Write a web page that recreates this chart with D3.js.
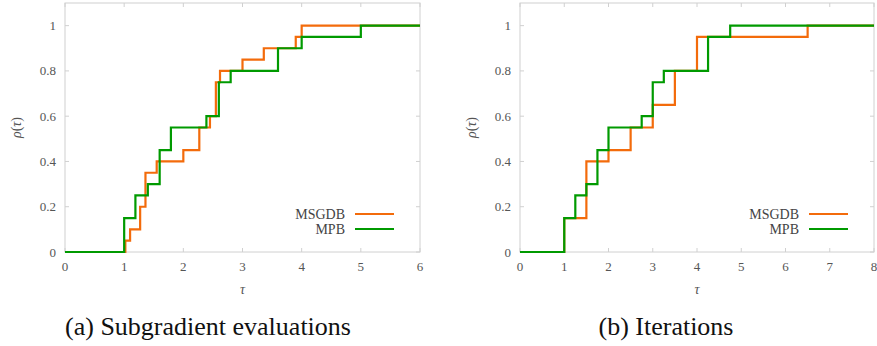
<!DOCTYPE html>
<html>
<head>
<meta charset="utf-8">
<script src="https://cdn.jsdelivr.net/npm/d3@7"></script>
<style>
  body { margin: 0; background: #fff; }
</style>
</head>
<body>
<div id="chart"></div>
<script>
// performance profiles
const seriesNames = ["MSGDB", "MPB"];

// (a) subgradient evaluations
const leftMsgdbTau = [0, 1.02, 1.1, 1.27, 1.36, 1.55, 2.0, 2.27, 2.45, 2.55, 2.62, 3.0, 3.36, 3.9, 4.0, 6];
const leftMsgdbRho = [0, 0.05, 0.1, 0.2, 0.35, 0.4, 0.45, 0.55, 0.6, 0.75, 0.8, 0.85, 0.9, 0.95, 1.0, 1.0];
const leftMpbTau = [0, 1.0, 1.19, 1.4, 1.6, 1.79, 2.39, 2.6, 2.8, 3.6, 4.0, 5.0, 6];
const leftMpbRho = [0, 0.15, 0.25, 0.3, 0.45, 0.55, 0.6, 0.75, 0.8, 0.9, 0.95, 1.0, 1.0];

// (b) iterations
const rightMsgdbTau = [0, 1.0, 1.5, 2.0, 2.5, 3.0, 3.5, 4.0, 6.5, 8];
const rightMsgdbRho = [0, 0.15, 0.4, 0.45, 0.55, 0.65, 0.8, 0.95, 1.0, 1.0];
const rightMpbTau = [0, 1.0, 1.25, 1.5, 1.75, 2.0, 2.75, 3.0, 3.25, 4.25, 4.75, 8];
const rightMpbRho = [0, 0.15, 0.25, 0.3, 0.45, 0.55, 0.6, 0.75, 0.8, 0.95, 1.0, 1.0];

const yTicks = [0, 0.2, 0.4, 0.6, 0.8, 1];
const leftXTicks = [0, 1, 2, 3, 4, 5, 6];
const rightXTicks = [0, 1, 2, 3, 4, 5, 6, 7, 8];

const colors = { MSGDB: "#f36b0b", MPB: "#009a00" };
const serif = "'Liberation Serif', 'Times New Roman', 'DejaVu Serif', serif";

var width = 877, height = 346;

var svg = d3.select("#chart")
  .append("svg")
  .attr("width", width)
  .attr("height", height)
  .style("font-family", serif);

function drawPanel(opts) {
  var x = d3.scaleLinear().domain([0, opts.xMax]).range([opts.x0, opts.x1]);
  var y = d3.scaleLinear().domain([0, 1.1]).range([252, 3]);
  var g = svg.append("g");

  // frame
  g.append("rect")
    .attr("x", opts.x0).attr("y", y(1.1))
    .attr("width", opts.x1 - opts.x0).attr("height", y(0) - y(1.1))
    .attr("fill", "none").attr("stroke", "#d0d0d0").attr("stroke-width", 1);

  // inward ticks, mirrored
  var tk = 4;
  opts.xTicks.forEach(function (t) {
    g.append("line").attr("x1", x(t)).attr("x2", x(t)).attr("y1", y(0)).attr("y2", y(0) - tk)
      .attr("stroke", "#d0d0d0");
    g.append("line").attr("x1", x(t)).attr("x2", x(t)).attr("y1", y(1.1)).attr("y2", y(1.1) + tk)
      .attr("stroke", "#d0d0d0");
    g.append("text").attr("x", x(t)).attr("y", 271)
      .attr("text-anchor", "middle").attr("font-size", 13).attr("fill", "#555")
      .text(t);
  });
  yTicks.forEach(function (t) {
    g.append("line").attr("x1", opts.x0).attr("x2", opts.x0 + tk).attr("y1", y(t)).attr("y2", y(t))
      .attr("stroke", "#d0d0d0");
    g.append("line").attr("x1", opts.x1).attr("x2", opts.x1 - tk).attr("y1", y(t)).attr("y2", y(t))
      .attr("stroke", "#d0d0d0");
    g.append("text").attr("x", opts.x0 - 9).attr("y", y(t) + 4.5)
      .attr("text-anchor", "end").attr("font-size", 13).attr("fill", "#555")
      .text(t);
  });

  // axis titles
  g.append("text").attr("x", (opts.x0 + opts.x1) / 2).attr("y", 294)
    .attr("text-anchor", "middle").attr("font-size", 14).attr("font-style", "italic").attr("fill", "#555")
    .text("τ");
  var yl = g.append("text")
    .attr("transform", "translate(" + (opts.x0 - 44) + "," + y(0.55) + ") rotate(-90)")
    .attr("text-anchor", "middle").attr("font-size", 14).attr("fill", "#555");
  yl.append("tspan").attr("font-style", "italic").text("ρ");
  yl.append("tspan").text("(");
  yl.append("tspan").attr("font-style", "italic").text("τ");
  yl.append("tspan").text(")");

  var line = d3.line()
    .x(function (d) { return x(d[0]); })
    .y(function (d) { return y(d[1]); })
    .curve(d3.curveStepAfter);

  opts.series.forEach(function (s) {
    g.append("path")
      .datum(d3.zip(s.tau, s.rho))
      .attr("d", line)
      .attr("fill", "none")
      .attr("stroke", colors[s.name])
      .attr("stroke-width", 2.2);
  });

  // legend
  seriesNames.forEach(function (n, i) {
    var ly = 214 + i * 15;
    g.append("text").attr("x", opts.x1 - 75).attr("y", ly + 4.5)
      .attr("text-anchor", "end").attr("font-size", 14).attr("fill", "#444")
      .text(n);
    g.append("line").attr("x1", opts.x1 - 65).attr("x2", opts.x1 - 26)
      .attr("y1", ly).attr("y2", ly)
      .attr("stroke", colors[n]).attr("stroke-width", 2.2);
  });

  // caption
  svg.append("text").attr("x", opts.capX).attr("y", 335)
    .attr("text-anchor", "middle").attr("font-size", 26).attr("fill", "#111")
    .text(opts.caption);
}

drawPanel({
  x0: 65, x1: 420, xMax: 6, xTicks: leftXTicks, capX: 208,
  caption: "(a) Subgradient evaluations",
  series: [
    { name: "MSGDB", tau: leftMsgdbTau, rho: leftMsgdbRho },
    { name: "MPB", tau: leftMpbTau, rho: leftMpbRho }
  ]
});

drawPanel({
  x0: 520, x1: 874, xMax: 8, xTicks: rightXTicks, capX: 666,
  caption: "(b) Iterations",
  series: [
    { name: "MSGDB", tau: rightMsgdbTau, rho: rightMsgdbRho },
    { name: "MPB", tau: rightMpbTau, rho: rightMpbRho }
  ]
});
</script>
</body>
</html>
